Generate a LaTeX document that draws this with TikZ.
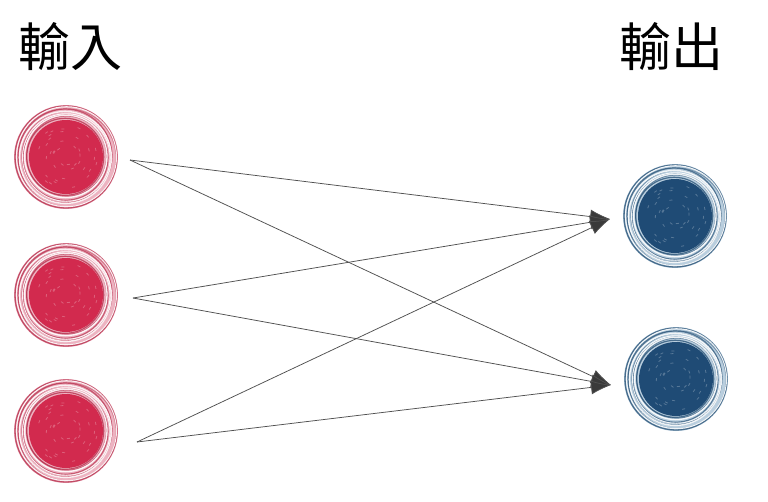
\documentclass[tikz,border=0pt]{standalone}
\usepackage{fontspec}
\newfontfamily\cjk{Noto Sans CJK TC}
\usetikzlibrary{arrows.meta}
\definecolor{redcore}{HTML}{D22A4E}
\definecolor{reddark}{HTML}{B8324F}
\definecolor{redlight}{HTML}{EDB3C1}
\definecolor{bluecore}{HTML}{1F4B75}
\definecolor{bluedark}{HTML}{2B5478}
\definecolor{bluelight}{HTML}{B9CEDE}
\definecolor{linegray}{HTML}{505050}
\definecolor{tipgray}{HTML}{3A3A3A}
\tikzset{
  orbnode/.style={circle, minimum size=104pt, inner sep=0pt},
  conn/.style={draw=linegray, line width=0.75pt, -{Latex[length=20pt,width=14pt,fill=tipgray]}},
  title/.style={font=\cjk\fontsize{52pt}{52pt}\selectfont, inner sep=0pt},
  pics/orb/.style n args={3}{code={
    \fill[#3] (0,0) circle (52pt);
    \foreach \dx/\dy/\r/\w/\o in {0/0/51/1.3/0.8, 1.2/-0.8/49/1.0/0.5, -1/1/47/1.2/0.7, 0.8/0.6/45/0.9/0.5, -0.5/-0.7/42.5/1.1/0.7, 0.6/0.9/40/1.0/0.6, -0.8/0.2/38.5/1.2/0.8}
      \draw[#2, line width=\w pt, opacity=\o] (\dx pt,\dy pt) circle (\r pt);
    \foreach \dx/\dy/\r/\w in {0.5/0.3/50/1.0, -0.6/-0.4/46/1.4, 0.3/-0.5/43.8/0.9, -0.2/0.6/41.2/1.3}
      \draw[white, line width=\w pt, opacity=0.9] (\dx pt,\dy pt) circle (\r pt);
    \fill[#1] (0,0) circle (37pt);
    \pgfmathsetseed{7}
    \foreach \i in {1,...,40}{
      \pgfmathsetmacro\ang{rnd*360}
      \pgfmathsetmacro\rad{sqrt(rnd)*32}
      \draw[white, opacity=0.25, line width=0.8pt] ({\rad*cos(\ang)*1pt},{\rad*sin(\ang)*1pt}) -- ++({\ang+90}:3pt);
    }
  }}
}
\begin{document}
\begin{tikzpicture}[x=1pt,y=-1pt]
\useasboundingbox (0,0) rectangle (768,501);
\fill[white] (0,0) rectangle (768,501);
\node[title] (tin) at (70,47) {輸入};
\node[title] (tout) at (671,47) {輸出};
\node[orbnode] (i1) at (66,157) {};
\node[orbnode] (i2) at (66,295) {};
\node[orbnode] (i3) at (66,431) {};
\node[orbnode] (o1) at (675,216) {};
\node[orbnode] (o2) at (676,379) {};
\pic at (i1) {orb={redcore}{reddark}{redlight}};
\pic at (i2) {orb={redcore}{reddark}{redlight}};
\pic at (i3) {orb={redcore}{reddark}{redlight}};
\pic at (o1) {orb={bluecore}{bluedark}{bluelight}};
\pic at (o2) {orb={bluecore}{bluedark}{bluelight}};
\coordinate (s1) at (130,160);
\coordinate (s2) at (133,298);
\coordinate (s3) at (137,442);
\coordinate (t1) at (610,219);
\coordinate (t2) at (611,385);
\draw[conn] (s1) -- (t1);
\draw[conn] (s1) -- (t2);
\draw[conn] (s2) -- (t1);
\draw[conn] (s2) -- (t2);
\draw[conn] (s3) -- (t1);
\draw[conn] (s3) -- (t2);
\end{tikzpicture}
\end{document}
